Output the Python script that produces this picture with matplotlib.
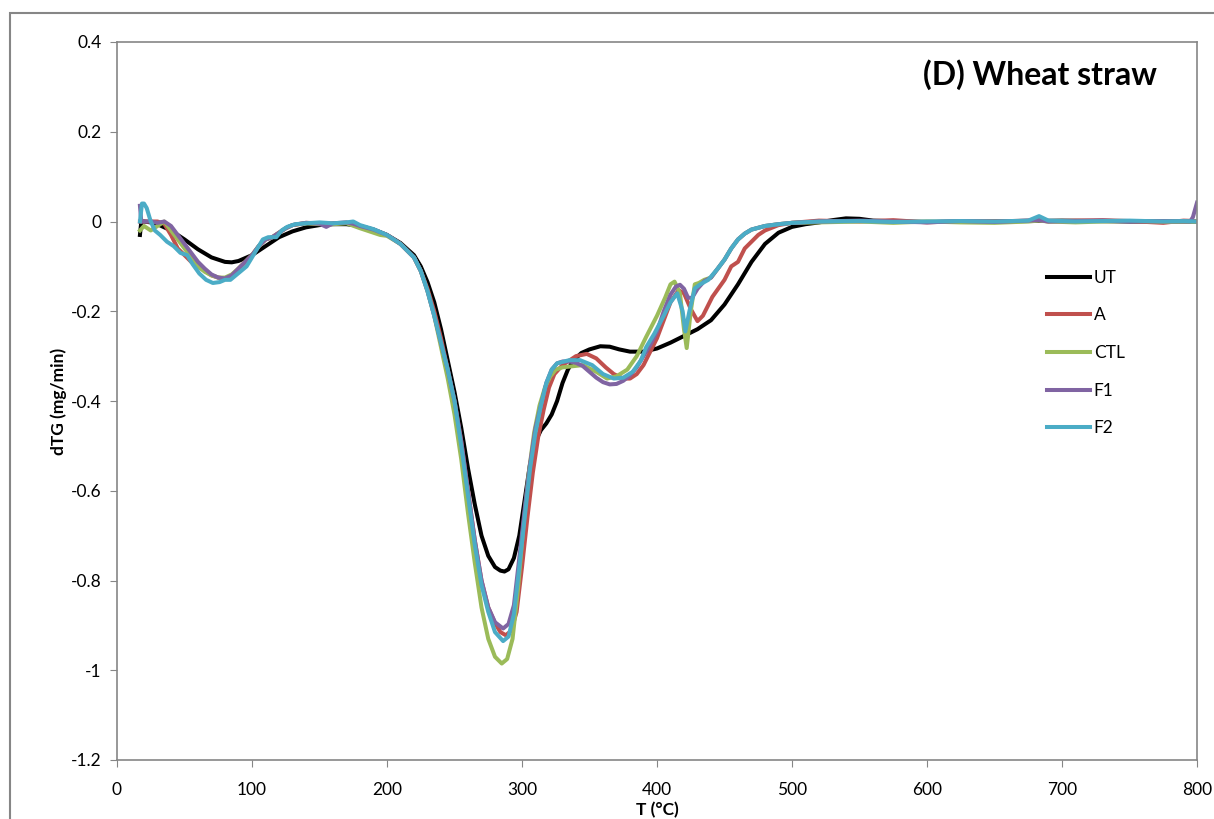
import matplotlib
matplotlib.use('Agg')
import matplotlib.pyplot as plt
from matplotlib.patches import Rectangle
from matplotlib.ticker import FuncFormatter

plt.rcParams['font.family'] = ['Lato', 'DejaVu Sans']
plt.rcParams['axes.unicode_minus'] = False

# ---- data ----
tail_x = [520, 550, 575, 600, 625, 650, 675, 683, 690, 710, 730, 750, 775, 790]

ut_x = [17, 18, 20, 25, 30, 40, 50, 60, 70, 80, 85, 90, 100, 110, 120, 130, 140, 150, 160, 170,
        180, 190, 200, 210, 220, 225, 230, 235, 240, 245, 250, 255, 260, 265, 270, 275, 280, 284,
        287, 290, 294, 298, 302, 306, 310, 314, 318, 322, 326, 330, 334, 338, 344, 350, 358, 365,
        372, 380, 390, 400, 410, 420, 430, 440, 450, 460, 470, 480, 490, 500, 510, 520, 530, 540,
        550, 560, 580, 600, 650, 700, 750, 800]
ut_y = [-0.03, 0.0, 0.0, -0.002, -0.006, -0.02, -0.04, -0.062, -0.08, -0.09, -0.091, -0.088, -0.075,
        -0.055, -0.035, -0.022, -0.013, -0.008, -0.006, -0.006, -0.01, -0.018, -0.03, -0.048, -0.075,
        -0.1, -0.135, -0.18, -0.24, -0.31, -0.38, -0.46, -0.55, -0.63, -0.7, -0.745, -0.77, -0.778,
        -0.78, -0.775, -0.75, -0.7, -0.62, -0.54, -0.49, -0.465, -0.45, -0.43, -0.4, -0.36, -0.33,
        -0.31, -0.293, -0.285, -0.278, -0.279, -0.285, -0.29, -0.29, -0.283, -0.27, -0.255, -0.24,
        -0.22, -0.185, -0.14, -0.09, -0.05, -0.025, -0.012, -0.006, -0.002, 0.003, 0.007, 0.006,
        0.002, 0.0, -0.001, 0.0, 0.002, 0.0, 0.0]

a_x = [17, 20, 30, 35, 40, 45, 50, 55, 60, 65, 70, 75, 80, 85, 90, 100, 105, 110, 115, 120, 125,
       130, 140, 150, 160, 170, 180, 190, 200, 210, 220, 225, 230, 235, 240, 245, 250, 255, 260,
       265, 270, 275, 280, 284, 288, 292, 296, 300, 304, 308, 312, 316, 320, 324, 330, 340, 348,
       355, 362, 368, 375, 380, 385, 390, 395, 400, 405, 410, 416, 420, 425, 430, 434, 441, 450,
       455, 460, 465, 470, 475, 480, 490, 500] + tail_x + [800]
a_y = [0.0, 0.0, 0.0, -0.005, -0.03, -0.06, -0.075, -0.09, -0.1, -0.11, -0.12, -0.125, -0.127, -0.12,
       -0.105, -0.075, -0.055, -0.04, -0.035, -0.025, -0.015, -0.008, -0.003, -0.004, -0.004, -0.003,
       -0.01, -0.018, -0.03, -0.05, -0.08, -0.11, -0.15, -0.2, -0.26, -0.33, -0.4, -0.49, -0.6,
       -0.71, -0.8, -0.86, -0.895, -0.915, -0.922, -0.912, -0.87, -0.77, -0.66, -0.56, -0.48, -0.42,
       -0.37, -0.34, -0.32, -0.3, -0.295, -0.305, -0.325, -0.34, -0.35, -0.35, -0.34, -0.32, -0.29,
       -0.26, -0.22, -0.18, -0.153, -0.16, -0.195, -0.222, -0.21, -0.168, -0.13, -0.1, -0.09, -0.06,
       -0.045, -0.03, -0.02, -0.008, -0.003,
       0.002, 0.0, 0.003, -0.002, 0.001, 0.0, 0.002, 0.003, 0.0, 0.002, 0.003, 0.001, -0.003, 0.002,
       0.001]

ctl_x = [17, 20, 25, 30, 35, 40, 45, 50, 55, 60, 65, 70, 75, 80, 85, 90, 100, 105, 110, 115, 120,
         125, 130, 140, 150, 160, 170, 180, 190, 195, 200, 210, 220, 225, 230, 235, 240, 245, 250,
         255, 260, 265, 270, 275, 280, 285, 289, 293, 297, 301, 305, 309, 313, 317, 321, 325, 330,
         345, 355, 363, 370, 378, 385, 392, 400, 406, 410, 413, 417, 420, 422, 425, 428, 431, 435,
         440, 445, 450, 455, 460, 465, 470, 480, 490, 500] + tail_x + [800]
ctl_y = [-0.02, -0.01, -0.02, -0.01, 0.0, -0.02, -0.04, -0.06, -0.08, -0.1, -0.112, -0.12, -0.125,
         -0.125, -0.118, -0.105, -0.075, -0.055, -0.04, -0.035, -0.025, -0.015, -0.008, -0.004, -0.006,
         -0.006, -0.004, -0.015, -0.025, -0.03, -0.032, -0.05, -0.08, -0.11, -0.155, -0.21, -0.28,
         -0.35, -0.43, -0.53, -0.65, -0.76, -0.86, -0.93, -0.97, -0.985, -0.975, -0.93, -0.82, -0.68,
         -0.56, -0.47, -0.41, -0.37, -0.345, -0.33, -0.325, -0.32, -0.335, -0.35, -0.345, -0.33, -0.3,
         -0.257, -0.21, -0.17, -0.14, -0.134, -0.16, -0.24, -0.282, -0.2, -0.14, -0.137, -0.13,
         -0.125, -0.105, -0.085, -0.06, -0.04, -0.027, -0.018, -0.01, -0.006, -0.003,
         -0.002, 0.0, -0.003, 0.0, -0.002, -0.003, 0.0, 0.002, 0.0, -0.002, 0.0, 0.001, 0.0, -0.001,
         0.0]

f1_x = [17, 18, 20, 25, 30, 35, 40, 45, 50, 55, 60, 65, 70, 75, 80, 85, 90, 95, 100, 105, 110, 115,
        120, 125, 130, 140, 150, 155, 160, 170, 175, 180, 190, 200, 210, 220, 225, 230, 235, 240,
        245, 250, 255, 260, 265, 270, 275, 280, 286, 290, 294, 298, 302, 306, 310, 314, 318, 322,
        326, 330, 335, 340, 345, 350, 355, 360, 365, 370, 375, 380, 385, 390, 395, 400, 405, 410,
        414, 417, 420, 423, 426, 430, 435, 440, 445, 450, 455, 460, 465, 470, 480, 490, 500] \
       + tail_x + [795, 797, 800]
f1_y = [0.035, 0.0, 0.0, 0.0, -0.003, 0.0, -0.01, -0.03, -0.05, -0.07, -0.09, -0.105, -0.118, -0.125,
        -0.127, -0.12, -0.105, -0.09, -0.075, -0.055, -0.04, -0.035, -0.025, -0.015, -0.008, -0.003,
        -0.005, -0.012, -0.004, -0.002, -0.005, -0.01, -0.018, -0.03, -0.05, -0.08, -0.11, -0.155,
        -0.21, -0.27, -0.33, -0.4, -0.49, -0.6, -0.71, -0.8, -0.86, -0.893, -0.907, -0.897, -0.855,
        -0.75, -0.64, -0.54, -0.46, -0.41, -0.36, -0.33, -0.316, -0.312, -0.312, -0.315, -0.322,
        -0.335, -0.348, -0.358, -0.363, -0.362, -0.355, -0.343, -0.325, -0.3, -0.275, -0.245, -0.2,
        -0.163, -0.145, -0.141, -0.15, -0.17, -0.17, -0.15, -0.133, -0.125, -0.105, -0.085, -0.06,
        -0.04, -0.027, -0.018, -0.01, -0.006, -0.003,
        0.0, 0.002, 0.0, -0.002, 0.001, -0.001, 0.002, 0.003, 0.0, 0.001, 0.002, 0.0, 0.001, 0.0,
        0.0, 0.01, 0.042]

f2_x = [17, 18.5, 20, 22, 25, 28, 32, 37, 42, 47, 52, 56, 61, 66, 71, 76, 80, 84, 90, 96, 100,
        104, 108, 112, 118, 122, 126, 132, 140, 150, 160, 170, 175, 180, 190, 200, 210, 220, 225,
        230, 235, 240, 245, 250, 255, 260, 265, 270, 275, 280, 286, 290, 294, 298, 302, 306, 310,
        314, 318, 322, 326, 335, 343, 352, 360, 368, 375, 382, 388, 392, 398, 405, 410, 415, 419,
        421, 424, 428, 432, 438, 445, 450, 455, 460, 465, 470, 480, 490, 500] + tail_x + [800]
f2_y = [0.0, 0.04, 0.04, 0.03, 0.0, -0.02, -0.03, -0.045, -0.055, -0.07, -0.075, -0.095, -0.116,
        -0.13, -0.137, -0.135, -0.13, -0.13, -0.115, -0.1, -0.08, -0.06, -0.04, -0.035, -0.035, -0.02,
        -0.012, -0.006, -0.004, -0.002, -0.004, -0.002, 0.0, -0.008, -0.017, -0.03, -0.05, -0.08,
        -0.11, -0.155, -0.21, -0.27, -0.33, -0.4, -0.5, -0.61, -0.72, -0.81, -0.87, -0.915, -0.935,
        -0.925, -0.875, -0.77, -0.66, -0.55, -0.47, -0.41, -0.36, -0.33, -0.316, -0.309, -0.309,
        -0.32, -0.34, -0.35, -0.348, -0.335, -0.31, -0.28, -0.25, -0.21, -0.18, -0.16, -0.2, -0.245,
        -0.2, -0.149, -0.14, -0.13, -0.105, -0.085, -0.06, -0.04, -0.027, -0.018, -0.01, -0.006,
        -0.003,
        0.0, 0.001, -0.001, 0.0, 0.001, 0.0, 0.002, 0.012, 0.002, 0.0, 0.001, 0.002, 0.0, 0.001,
        0.0]

series = [('UT', ut_x, ut_y, 'black'),
          ('A', a_x, a_y, '#C0504D'),
          ('CTL', ctl_x, ctl_y, '#9BBB59'),
          ('F1', f1_x, f1_y, '#8064A2'),
          ('F2', f2_x, f2_y, '#4BACC6')]

xticks = [0, 100, 200, 300, 400, 500, 600, 700, 800]
yticks = [-1.2, -1.0, -0.8, -0.6, -0.4, -0.2, 0.0, 0.2, 0.4]

# ---- figure ----
fig = plt.figure(figsize=(12.14, 8.19), dpi=100)
ax = fig.add_axes([117/1214, 1-760/819, 1080/1214, 718/819])

for name, xs, ys, c in series:
    ax.plot(xs, ys, color=c, linewidth=2.9, label=name, solid_joinstyle='round')

ax.set_xlim(0, 800)
ax.set_ylim(-1.2, 0.4)
ax.set_xticks(xticks)
ax.set_yticks(yticks)
ax.yaxis.set_major_formatter(FuncFormatter(lambda v, p: '%g' % round(v, 1)))
ax.tick_params(direction='out', length=5, color='#868686', labelsize=12.5)
ax.tick_params(axis='x', pad=11)
ax.tick_params(axis='y', pad=6)

for s in ax.spines.values():
    s.set_color('#868686')
    s.set_linewidth(1.2)

ax.set_xlabel('T (°C)', fontsize=12.5, fontweight='bold', labelpad=3)
ax.set_ylabel('dTG (mg/min)', fontsize=12.5, fontweight='bold', labelpad=3)

ax.text(0.963, 0.954, '(D) Wheat straw', transform=ax.transAxes, ha='right', va='center',
        fontsize=23, fontweight='bold')

ax.legend(loc='upper left', bbox_to_anchor=(0.861, 0.683), frameon=False, fontsize=12.5,
          handlelength=2.5, handletextpad=0.2, labelspacing=1.25, borderpad=0, borderaxespad=0)

# outer chart border
fig.patches.append(Rectangle((10/1214, -0.2), 1.3, 1.2 - 13.5/819, transform=fig.transFigure,
                             fill=False, edgecolor='#868686', linewidth=1.5))

plt.savefig('out.png', dpi=100)
